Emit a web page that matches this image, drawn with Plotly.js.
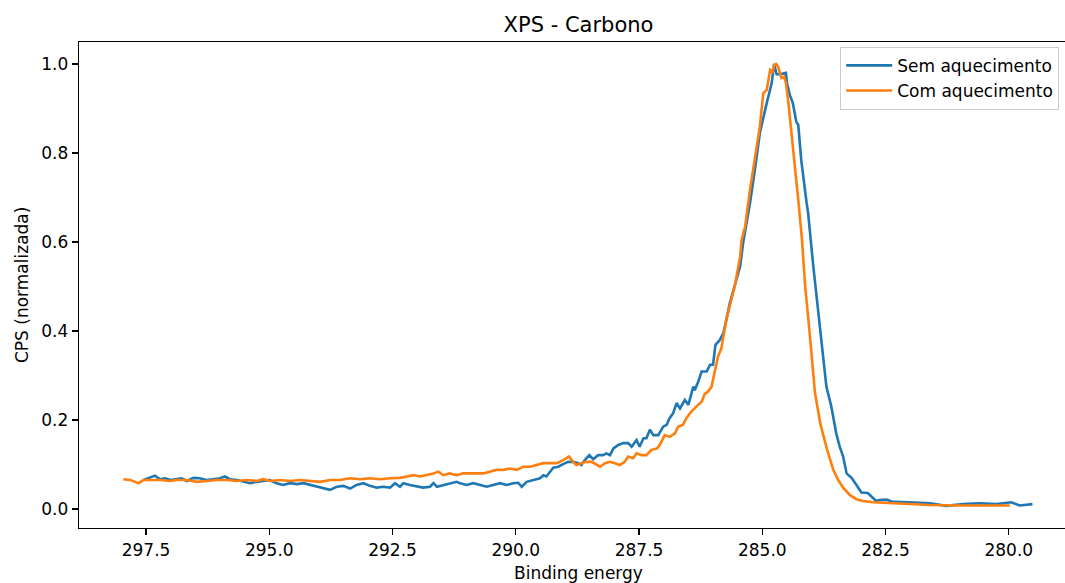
<!DOCTYPE html>
<html>
<head>
<meta charset="utf-8">
<script src="https://cdn.plot.ly/plotly-3.0.1.min.js"></script>
<style>html,body{margin:0;padding:0;background:#fff;}#chart{width:1065px;height:583px;}</style>
</head>
<body>
<div id="chart"></div>
<script>
const seriesNames = ["Sem aquecimento", "Com aquecimento"];
const chartTitle = "XPS - Carbono";
const xLabel = "Binding energy";
const yLabel = "CPS (normalizada)";
const xTickVals = [297.5, 295.0, 292.5, 290.0, 287.5, 285.0, 282.5, 280.0];
const xTickText = ["297.5", "295.0", "292.5", "290.0", "287.5", "285.0", "282.5", "280.0"];
const yTickVals = [0.0, 0.2, 0.4, 0.6, 0.8, 1.0];
const yTickText = ["0.0", "0.2", "0.4", "0.6", "0.8", "1.0"];

const semE = [297.55,297.45,297.32,297.22,297.11,297.01,296.88,296.78,296.67,296.54,
296.41,296.27,296.14,296.00,295.90,295.80,295.66,295.53,295.39,295.26,
295.12,294.99,294.85,294.72,294.58,294.44,294.31,294.17,294.04,293.91,
293.77,293.63,293.50,293.36,293.23,293.09,292.96,292.82,292.69,292.55,
292.45,292.35,292.28,292.15,292.01,291.88,291.74,291.67,291.60,291.47,
291.34,291.20,291.13,291.00,290.86,290.73,290.59,290.46,290.32,290.19,
290.05,289.95,289.88,289.78,289.65,289.51,289.44,289.38,289.24,289.14,
289.04,288.94,288.84,288.73,288.67,288.60,288.51,288.43,288.33,288.23,
288.16,288.09,288.02,287.92,287.82,287.72,287.65,287.55,287.49,287.41,
287.35,287.28,287.21,287.11,287.01,286.94,286.88,286.81,286.74,286.67,
286.57,286.50,286.40,286.37,286.30,286.23,286.13,286.06,286.00,285.95,
285.86,285.79,285.73,285.66,285.59,285.45,285.39,285.25,285.15,285.05,
284.91,284.81,284.76,284.71,284.64,284.52,284.50,284.44,284.38,284.31,
284.27,284.21,284.10,284.07,283.97,283.90,283.87,283.80,283.70,283.60,
283.50,283.43,283.36,283.29,283.19,283.09,282.99,282.86,282.76,282.69,
282.62,282.48,282.35,282.28,282.01,281.60,281.27,280.93,280.59,280.25,
279.95,279.78,279.52];
const semCPS = [0.065,0.069,0.075,0.067,0.069,0.065,0.067,0.069,0.063,0.070,
0.069,0.065,0.067,0.069,0.073,0.067,0.065,0.061,0.058,0.061,
0.063,0.065,0.058,0.054,0.058,0.056,0.058,0.054,0.050,0.048,
0.043,0.050,0.052,0.046,0.054,0.058,0.052,0.048,0.050,0.048,
0.058,0.050,0.058,0.054,0.050,0.048,0.050,0.058,0.050,0.054,
0.058,0.061,0.058,0.054,0.058,0.054,0.050,0.054,0.058,0.054,
0.058,0.059,0.050,0.061,0.065,0.069,0.076,0.073,0.093,0.095,
0.101,0.106,0.106,0.103,0.099,0.110,0.121,0.112,0.121,0.121,
0.125,0.121,0.136,0.144,0.148,0.148,0.140,0.155,0.140,0.159,
0.159,0.178,0.166,0.166,0.185,0.189,0.204,0.215,0.238,0.226,
0.245,0.234,0.275,0.267,0.286,0.309,0.309,0.324,0.324,0.369,
0.380,0.395,0.425,0.462,0.490,0.545,0.597,0.687,0.762,0.845,
0.912,0.957,1.000,0.977,0.977,0.980,0.957,0.930,0.912,0.870,
0.863,0.784,0.687,0.665,0.550,0.480,0.455,0.380,0.275,0.230,
0.170,0.140,0.118,0.080,0.070,0.054,0.037,0.036,0.024,0.018,
0.020,0.021,0.016,0.016,0.015,0.013,0.007,0.011,0.013,0.011,
0.015,0.008,0.011];

const comE = [297.96,297.82,297.72,297.66,297.55,297.42,297.22,297.01,296.88,296.67,
296.47,296.27,296.07,295.86,295.66,295.46,295.26,295.12,294.99,294.78,
294.58,294.38,294.17,293.97,293.77,293.57,293.36,293.16,292.96,292.76,
292.55,292.35,292.21,292.08,291.94,291.81,291.67,291.57,291.47,291.34,
291.20,291.07,290.93,290.79,290.66,290.52,290.39,290.25,290.12,289.98,
289.85,289.71,289.58,289.44,289.31,289.17,289.04,288.92,288.84,288.77,
288.67,288.57,288.46,288.36,288.29,288.19,288.09,287.99,287.89,287.79,
287.72,287.62,287.55,287.45,287.35,287.25,287.14,287.08,286.98,286.88,
286.77,286.71,286.61,286.54,286.44,286.34,286.23,286.17,286.10,286.03,
285.96,285.90,285.83,285.73,285.56,285.45,285.42,285.35,285.25,285.15,
285.05,284.98,284.91,284.84,284.79,284.76,284.72,284.68,284.61,284.56,
284.52,284.47,284.37,284.27,284.20,284.13,284.06,284.01,283.93,283.82,
283.69,283.56,283.46,283.36,283.22,283.09,282.96,282.75,282.28,281.60,
280.93,280.25,279.98];
const comCPS = [0.067,0.065,0.061,0.058,0.065,0.065,0.065,0.063,0.065,0.065,
0.061,0.063,0.065,0.065,0.063,0.065,0.063,0.067,0.063,0.065,
0.063,0.065,0.063,0.061,0.065,0.065,0.069,0.067,0.069,0.067,
0.069,0.070,0.073,0.076,0.073,0.076,0.080,0.084,0.076,0.080,
0.076,0.080,0.080,0.080,0.080,0.084,0.088,0.088,0.091,0.088,
0.095,0.095,0.099,0.103,0.103,0.103,0.110,0.118,0.106,0.099,
0.103,0.106,0.106,0.099,0.095,0.103,0.106,0.103,0.099,0.106,
0.118,0.114,0.125,0.121,0.121,0.133,0.136,0.144,0.166,0.162,
0.170,0.185,0.189,0.204,0.219,0.230,0.241,0.258,0.264,0.275,
0.312,0.342,0.361,0.425,0.500,0.567,0.604,0.634,0.717,0.792,
0.859,0.934,0.942,0.987,0.983,0.998,1.000,0.994,0.968,0.971,
0.957,0.912,0.807,0.694,0.612,0.500,0.420,0.355,0.260,0.190,
0.135,0.088,0.065,0.048,0.031,0.022,0.018,0.015,0.013,0.009,
0.008,0.008,0.008];

const FONT = "DejaVu Sans, sans-serif";
const traces = [
  {x: semE, y: semCPS, name: seriesNames[0], type: "scatter", mode: "lines",
   line: {color: "#1f77b4", width: 2.6}},
  {x: comE, y: comCPS, name: seriesNames[1], type: "scatter", mode: "lines",
   line: {color: "#ff7f0e", width: 2.6}}
];
const layout = {
  width: 1065, height: 583,
  margin: {l: 79, r: 0, t: 42, b: 55, pad: 0},
  paper_bgcolor: "#fff", plot_bgcolor: "#fff",
  font: {family: FONT, size: 17, color: "#000"},
  title: {text: chartTitle, font: {family: FONT, size: 21, color: "#000"},
          xref: "paper", x: 0.5066, xanchor: "center", yref: "container", y: 0.958, yanchor: "middle"},
  showlegend: true,
  legend: {x: 0.772, xanchor: "left", y: 0.99, yanchor: "top", itemwidth: 46,
           bgcolor: "rgba(255,255,255,0.8)", bordercolor: "#cccccc", borderwidth: 1,
           font: {family: FONT, size: 17, color: "#000"}, tracegroupgap: 0},
  xaxis: {range: [298.86, 278.86], tickvals: xTickVals, ticktext: xTickText,
          showgrid: false, zeroline: false, showline: true, mirror: true,
          linecolor: "#000", linewidth: 1.3, ticks: "outside", ticklen: 6, tickwidth: 1.3,
          tickcolor: "#000", tickfont: {family: FONT, size: 17, color: "#000"}},
  yaxis: {range: [-0.0427, 1.0494], tickvals: yTickVals, ticktext: yTickText,
          showgrid: false, zeroline: false, showline: true, mirror: false,
          linecolor: "#000", linewidth: 1.3, ticks: "outside", ticklen: 6, tickwidth: 1.3,
          tickcolor: "#000", tickfont: {family: FONT, size: 17, color: "#000"}},
  annotations: [
    {text: xLabel, xref: "paper", yref: "paper", x: 0.5066, y: -0.0926,
     xanchor: "center", yanchor: "middle", showarrow: false,
     font: {family: FONT, size: 17, color: "#000"}},
    {text: yLabel, xref: "paper", yref: "paper", x: -0.0578, y: 0.5,
     xanchor: "center", yanchor: "middle", showarrow: false, textangle: -90,
     font: {family: FONT, size: 17, color: "#000"}}
  ]
};
Plotly.newPlot("chart", traces, layout, {displayModeBar: false, staticPlot: true});
</script>
</body>
</html>
